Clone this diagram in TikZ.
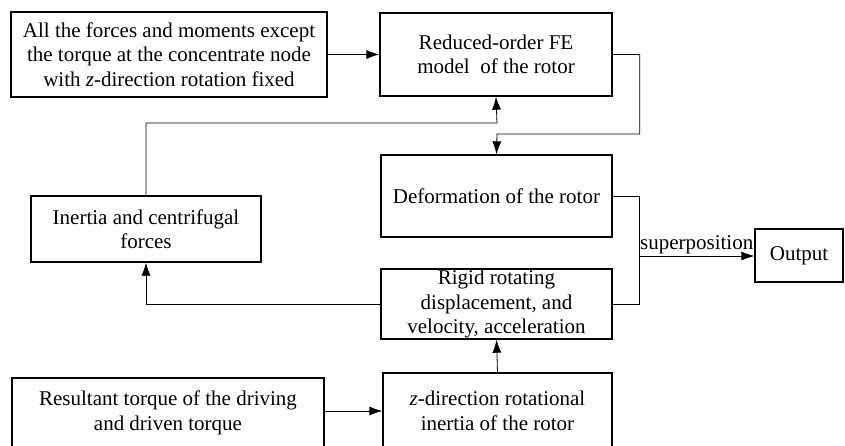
\documentclass[tikz,border=0pt]{standalone}
\usepackage{fontspec}
\setmainfont{Liberation Serif}
\usetikzlibrary{arrows.meta}

\tikzset{
  block/.style={draw, line width=1.3pt, align=center, inner sep=1pt,
    font=\fontsize{21}{24.5}\selectfont},
  link/.style={line width=0.8pt},
  >={Latex[length=13pt,width=9pt]}
}

\begin{document}
\begin{tikzpicture}[x=1pt,y=-1pt]

  \useasboundingbox (0,0) rectangle (845,446);

%%%%%%%%%%%%%%%%%%%%%%%%%%%%%%%%%%%%%%%%%%
  % Blocks
  \node[block, minimum width=316pt, minimum height=85pt] (loads) at (169,54.5)
    {All the forces and moments except\\the torque at the concentrate node\\with \textit{z}-direction rotation fixed};
  \node[block, minimum width=232pt, minimum height=83pt] (model) at (496,54.5)
    {Reduced-order FE\\model~ of the rotor};
  \node[block, minimum width=231pt, minimum height=82pt] (deform) at (496.5,196)
    {Deformation of the rotor};
  \node[block, minimum width=230pt, minimum height=66pt] (inertia) at (146,229)
    {Inertia and centrifugal\\forces};
  \node[block, minimum width=231pt, minimum height=70pt] (rigid) at (496.5,304)
    {Rigid rotating\\displacement, and\\velocity, acceleration};
  \node[block, minimum width=312pt, minimum height=70pt] (torque) at (168,413)
    {Resultant torque of the driving\\and driven torque};
  \node[block, minimum width=229pt, minimum height=76pt] (zrot) at (497.5,411)
    {\textit{z}-direction rotational\\inertia of the rotor};
  \node[block, minimum width=88pt, minimum height=53pt] (output) at (799,255.5)
    {Output};

%%%%%%%%%%%%%%%%%%%%%%%%%%%%%%%%%%%%%%%%%%
  % Connectors
  \draw[link, ->] (loads) -- (model);
  \draw[link, ->] (model.east) -- ++(27,0) |- (497,134) -- (deform.north);
  \draw[link, ->] (inertia.north) |- (497,123) -- (model.south);
  \draw[link, ->] (rigid.west) -| (inertia.south);
  \draw[link, ->] (zrot.north) -- (rigid.south);
  \draw[link, ->] (torque.east |- zrot.west) -- (zrot.west);

  % Superposition
  \coordinate (join) at (639,256);
  \draw[link] (deform.east) -| (join) |- (rigid.east);
  \draw[link, ->] (join) -- node[block, draw=none, above, inner sep=1pt] (sup) {superposition} (output.west |- join);

\end{tikzpicture}
\end{document}
